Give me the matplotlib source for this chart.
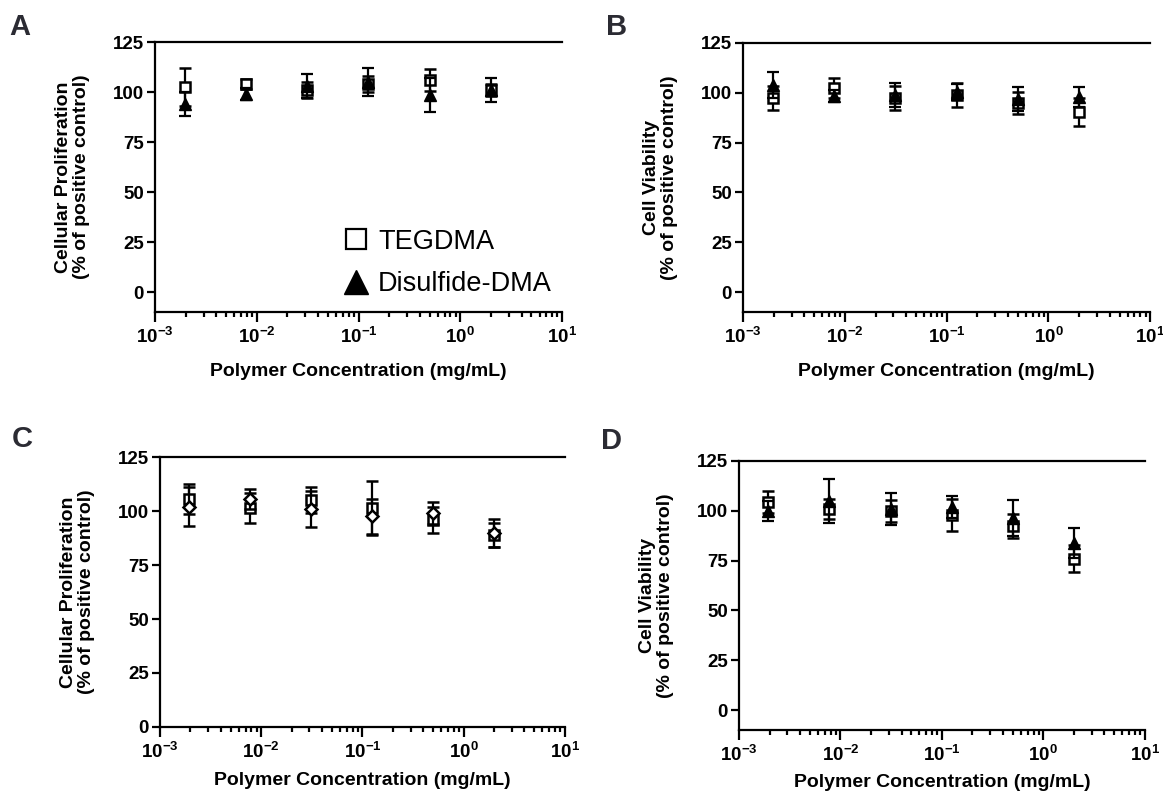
import numpy as np
import matplotlib.pyplot as plt
from matplotlib.lines import Line2D
from matplotlib.ticker import FixedLocator, FuncFormatter, LogLocator, NullFormatter

plt.rcParams['font.family'] = ['Liberation Sans', 'DejaVu Sans']
plt.rcParams['mathtext.fontset'] = 'custom'
plt.rcParams['mathtext.rm'] = 'Liberation Sans:bold'
plt.rcParams['mathtext.bf'] = 'Liberation Sans:bold'
plt.rcParams['mathtext.default'] = 'rm'

# Polymer concentration (mg/mL)
conc = [0.00195, 0.0078, 0.03125, 0.125, 0.5, 2.0]

# Panel A - cellular proliferation
teg_A = [102.5, 104, 101, 104, 106, 101]
teg_A_err = [9.5, 2.5, 4, 4, 5.5, 3]
dis_A = [94, 99, 103, 105, 98.5, 101]
dis_A_err = [6, 3, 6, 7, 8.5, 6]

# Panel B - cell viability
teg_B = [97.5, 102.5, 97.5, 99, 95, 90.5]
teg_B_err = [6, 5, 6, 6, 5.5, 7]
dis_B = [104, 98.5, 99, 100.5, 97, 98]
dis_B_err = [6.5, 3, 6, 4, 6, 5]

# Panel C - cellular proliferation
teg_C = [105.5, 101.5, 105, 101.5, 96, 89]
teg_C_err = [7, 7, 6, 12.5, 6, 5.5]
dis_C = [102, 105.5, 101, 97.5, 99, 90]
dis_C_err = [9, 4.5, 8.5, 8, 5, 6.5]

# Panel D - cell viability
teg_D = [104.5, 101, 100, 98, 92.5, 76]
teg_D_err = [5.5, 5, 5.5, 8, 6, 7]
dis_D = [100, 105, 101, 102, 96.5, 84]
dis_D_err = [5, 11, 8, 5.5, 9, 7.5]

ylab_prolif = "Cellular Proliferation\n(% of positive control)"
ylab_viab = "Cell Viability\n(% of positive control)"
xlab = "Polymer Concentration (mg/mL)"

fig = plt.figure(figsize=(11.63, 7.94), dpi=100)

panels = [
    ("A", [0.1333, 0.607, 0.350, 0.340], teg_A, teg_A_err, dis_A, dis_A_err, ylab_prolif, -10, 'tri', -0.19),
    ("B", [0.639, 0.607, 0.350, 0.339], teg_B, teg_B_err, dis_B, dis_B_err, ylab_viab, -10, 'tri', -0.19),
    ("C", [0.1376, 0.0844, 0.348, 0.340], teg_C, teg_C_err, dis_C, dis_C_err, ylab_prolif, 0, 'dia', -0.165),
    ("D", [0.6354, 0.0806, 0.349, 0.339], teg_D, teg_D_err, dis_D, dis_D_err, ylab_viab, -10, 'tri', -0.165),
]

axes = {}
for letter, rect, teg, teg_err, dis, dis_err, ylab, ymin, style, xlab_y in panels:
    ax = fig.add_axes(rect)
    axes[letter] = ax
    ax.errorbar(conc, teg, yerr=teg_err, fmt='s', ms=7, mfc='white', mec='black',
                mew=1.8, ecolor='black', elinewidth=1.6, capsize=4.2, capthick=1.6,
                label='TEGDMA', zorder=3)
    if style == 'tri':
        ax.errorbar(conc, dis, yerr=dis_err, fmt='^', ms=8.5, mfc='black', mec='black',
                    ecolor='black', elinewidth=1.6, capsize=4.2, capthick=1.6,
                    label='Disulfide-DMA', zorder=4)
    else:
        ax.errorbar(conc, dis, yerr=dis_err, fmt='D', ms=6, mfc='white', mec='black',
                    mew=1.8, ecolor='black', elinewidth=1.6, capsize=4.2, capthick=1.6,
                    label='Disulfide-DMA', zorder=4)

    ax.set_xscale('log')
    ax.set_xlim(1e-3, 1e1)
    ax.set_ylim(ymin, 125)
    ax.set_yticks([0, 25, 50, 75, 100, 125])
    ax.xaxis.set_major_locator(FixedLocator([1e-3, 1e-2, 1e-1, 1e0, 1e1]))
    ax.xaxis.set_major_formatter(FuncFormatter(lambda v, p: r'$10^{%d}$' % round(np.log10(v))))
    ax.xaxis.set_minor_locator(LogLocator(base=10, subs=np.arange(2, 10)))
    ax.xaxis.set_minor_formatter(NullFormatter())

    ax.spines['right'].set_visible(False)
    for s in ['left', 'bottom', 'top']:
        ax.spines[s].set_linewidth(1.6)
    ax.tick_params(axis='both', which='major', direction='out', width=1.6, length=6,
                   labelsize=13.5, pad=2)
    ax.tick_params(axis='x', which='minor', direction='out', width=1.6, length=3.5)
    ax.tick_params(axis='x', which='major', length=7, pad=4)
    for lbl in ax.get_yticklabels():
        lbl.set_fontweight('bold')

    ax.set_ylabel(ylab, fontsize=14, fontweight='bold', linespacing=1.1)
    ax.yaxis.set_label_coords(-0.16, 0.5)
    ax.set_xlabel(xlab, fontsize=14, fontweight='bold', va='top')
    ax.xaxis.set_label_coords(0.5, xlab_y)

letter_color = '#2b2b33'
fig.text(0.008, 0.966, "A", fontsize=21, fontweight='bold', color=letter_color, va='center')
fig.text(0.521, 0.966, "B", fontsize=21, fontweight='bold', color=letter_color, va='center')
fig.text(0.010, 0.447, "C", fontsize=21, fontweight='bold', color=letter_color, va='center')
fig.text(0.517, 0.444, "D", fontsize=21, fontweight='bold', color=letter_color, va='center')

# legend in panel A
handles = [Line2D([], [], marker='s', ls='none', ms=14, mfc='white', mec='black', mew=1.6),
           Line2D([], [], marker='^', ls='none', ms=17, mfc='black', mec='black')]
axes["A"].legend(handles, ['TEGDMA', 'Disulfide-DMA'], loc='lower right',
                 bbox_to_anchor=(1.035, -0.035), frameon=False, fontsize=19.5,
                 handletextpad=0.3, labelspacing=0.6, handlelength=1.0)

fig.savefig('out.png', dpi=100)
